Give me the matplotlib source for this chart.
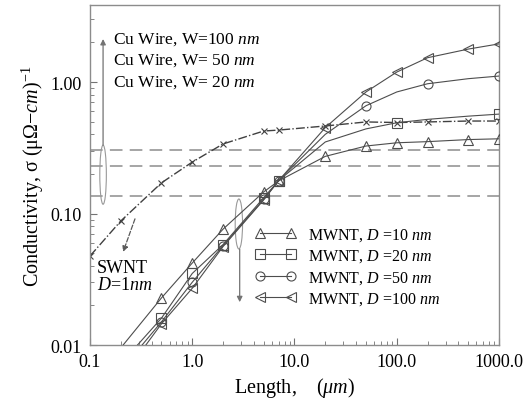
import matplotlib
matplotlib.use("Agg")
import matplotlib.pyplot as plt
from matplotlib.patches import Ellipse
from matplotlib.ticker import FixedLocator, FixedFormatter, LogLocator, NullFormatter

plt.rcParams["font.family"] = ["Liberation Serif", "DejaVu Serif"]
plt.rcParams["mathtext.fontset"] = "custom"
plt.rcParams["mathtext.rm"] = "Liberation Serif"
plt.rcParams["mathtext.it"] = "Liberation Serif:italic"

# MWNT conductivity vs length
mw_len = [0.2, 0.5, 1.0, 2.0, 5.0, 7.0, 20.0, 50.0, 100.0, 200.0, 500.0, 1000.0]
mw_d10 = [0.0095, 0.0228, 0.042, 0.076, 0.146, 0.177, 0.272, 0.326, 0.345, 0.352, 0.365, 0.370]
mw_d20 = [0.0072, 0.0160, 0.035, 0.058, 0.132, 0.178, 0.350, 0.440, 0.490, 0.520, 0.550, 0.570]
mw_d50 = [0.0064, 0.0150, 0.030, 0.057, 0.128, 0.178, 0.400, 0.660, 0.840, 0.970, 1.060, 1.110]
mw_d100 = [0.0055, 0.0145, 0.027, 0.056, 0.127, 0.178, 0.450, 0.840, 1.190, 1.530, 1.780, 1.950]
mw_labels = [r"MWNT, $D$ =10 $nm$", r"MWNT, $D$ =20 $nm$",
             r"MWNT, $D$ =50 $nm$", r"MWNT, $D$ =100 $nm$"]

# SWNT, D = 1 nm
sw_len = [0.1, 0.2, 0.5, 1.0, 2.0, 5.0, 7.0, 20.0, 50.0, 100.0, 200.0, 500.0, 1000.0]
sw_sig = [0.0475, 0.0877, 0.171, 0.246, 0.338, 0.424, 0.431, 0.463, 0.497, 0.492, 0.497, 0.505, 0.505]

# Cu wire conductivities
cu_sig = [0.304, 0.230, 0.136]
cu_labels = [r"Cu Wire, W=100 $nm$", r"Cu Wire, W= 50 $nm$", r"Cu Wire, W= 20 $nm$"]

x_ticks = [0.1, 1.0, 10.0, 100.0, 1000.0]
x_ticklabels = ["0.1", "1.0", "10.0", "100.0", "1000.0"]
y_ticks = [0.01, 0.1, 1.0]
y_ticklabels = ["0.01", "0.10", "1.00"]

fig = plt.figure(figsize=(5.25, 4.02), dpi=100)
ax = fig.add_axes([0.1714, 0.1393, 0.7791, 0.8457])

for s in cu_sig:
    ax.axhline(s, color="0.62", lw=1.3, dashes=(7, 4), zorder=1)

ax.plot(sw_len, sw_sig, color="0.25", lw=1.0, ls="-.", marker="x", ms=5,
        mew=0.8, zorder=2)

styles = [
    ("^", [1, 2, 3, 4, 5, 6, 7, 8, 9, 10, 11]),
    ("s", [1, 2, 3, 4, 5, 8, 11]),
    ("o", [1, 2, 3, 4, 5, 7, 9, 11]),
    ("<", [1, 2, 3, 4, 5, 6, 7, 8, 9, 10, 11]),
]
for ys, lab, (mk, every) in zip([mw_d10, mw_d20, mw_d50, mw_d100], mw_labels, styles):
    ax.plot(mw_len, ys, color="0.3", lw=0.8, marker=mk, ms=6.5, mfc="none",
            mec="0.3", mew=0.8, markevery=every, label=lab, zorder=3)

ax.set_xscale("log")
ax.set_yscale("log")
ax.set_xlim(0.1, 1000)
ax.set_ylim(0.01, 3.85)

ax.xaxis.set_major_locator(FixedLocator(x_ticks))
ax.xaxis.set_major_formatter(FixedFormatter(x_ticklabels))
ax.yaxis.set_major_locator(FixedLocator(y_ticks))
ax.yaxis.set_major_formatter(FixedFormatter(y_ticklabels))
ax.xaxis.set_minor_locator(LogLocator(base=10, subs=range(2, 10)))
ax.yaxis.set_minor_locator(LogLocator(base=10, subs=range(2, 10)))
ax.xaxis.set_minor_formatter(NullFormatter())
ax.yaxis.set_minor_formatter(NullFormatter())
ax.tick_params(which="both", direction="in", color="0.45", labelsize=13,
               top=False, right=False)
ax.tick_params(which="major", length=5, pad=6)
ax.tick_params(which="minor", length=3)
for sp in ax.spines.values():
    sp.set_color("0.55")
    sp.set_linewidth(1.0)

ax.set_xlabel(r"Length,    ($\mu m$)", fontsize=14.5, labelpad=3)
ax.set_ylabel(r"Conductivity, σ (μΩ−$cm$)$^{-1}$", fontsize=14.5, labelpad=3)

for i, lab in enumerate(cu_labels):
    ax.text(0.056, 0.90 - i * 0.062, lab, transform=ax.transAxes,
            fontsize=12.5, va="center", ha="left")

ax.text(0.017, 0.229, "SWNT", transform=ax.transAxes, fontsize=13,
        va="center", ha="left")
ax.text(0.017, 0.178, r"$D$=1$nm$", transform=ax.transAxes, fontsize=13,
        va="center", ha="left")

# Ellipses and arrows
ax.add_patch(Ellipse((0.032, 0.501), 0.016, 0.174, transform=ax.transAxes,
                     fill=False, ec="0.6", lw=0.8))
ax.annotate("", xy=(0.032, 0.90), xytext=(0.032, 0.588), xycoords="axes fraction",
            arrowprops=dict(arrowstyle="-|>", color="0.45", lw=0.9,
                            mutation_scale=8, shrinkA=0, shrinkB=0))
ax.add_patch(Ellipse((0.364, 0.356), 0.018, 0.147, transform=ax.transAxes,
                     fill=False, ec="0.6", lw=0.8))
ax.annotate("", xy=(0.366, 0.126), xytext=(0.366, 0.282), xycoords="axes fraction",
            arrowprops=dict(arrowstyle="-|>", color="0.45", lw=0.9,
                            mutation_scale=8, shrinkA=0, shrinkB=0))
ax.annotate("", xy=(0.081, 0.274), xytext=(0.110, 0.371), xycoords="axes fraction",
            arrowprops=dict(arrowstyle="-|>", color="0.35", lw=0.9, ls="--",
                            mutation_scale=8, shrinkA=0, shrinkB=0))

ax.legend(loc="upper left", bbox_to_anchor=(0.405, 0.35), frameon=False,
          numpoints=2, fontsize=11.5, handlelength=2.5, handletextpad=0.8,
          labelspacing=0.3, borderpad=0, borderaxespad=0, markerscale=1.0)

fig.savefig("out.png", dpi=100)
